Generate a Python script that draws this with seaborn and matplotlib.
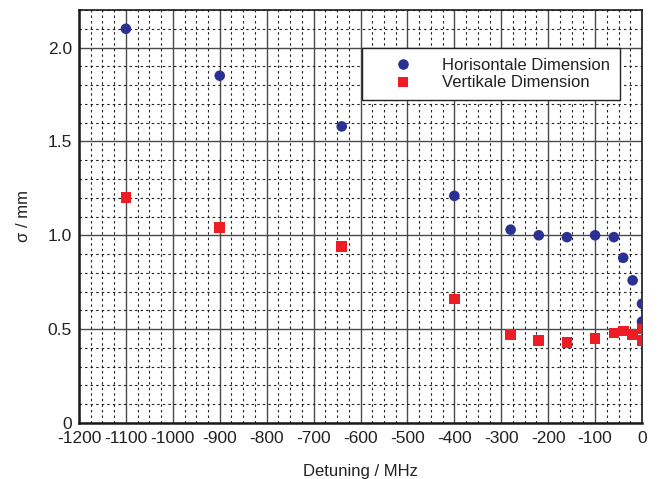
import matplotlib
matplotlib.use("Agg")
import matplotlib.pyplot as plt
from matplotlib.ticker import MultipleLocator
import numpy as np
import pandas as pd
import seaborn as sns

# Detuning values (MHz) and beam widths sigma (mm)
detuning_h = [-1100, -900, -640, -400, -280, -220, -160, -100, -60, -40, -20, 0, 0]
sigma_h = [2.10, 1.85, 1.58, 1.21, 1.03, 1.00, 0.99, 1.00, 0.99, 0.88, 0.76, 0.635, 0.54]

detuning_v = [-1100, -900, -640, -400, -280, -220, -160, -100, -60, -40, -20, 0, 0]
sigma_v = [1.20, 1.04, 0.94, 0.66, 0.47, 0.44, 0.43, 0.45, 0.48, 0.49, 0.47, 0.50, 0.44]

series_names = ["Horisontale Dimension", "Vertikale Dimension"]

df = pd.DataFrame({
    "Detuning": detuning_h + detuning_v,
    "sigma": sigma_h + sigma_v,
    "Serie": [series_names[0]] * len(detuning_h) + [series_names[1]] * len(detuning_v),
})

sns.set_theme(style="white")
plt.rcParams["font.family"] = ["Liberation Sans", "DejaVu Sans"]

fig = plt.figure(figsize=(6.58, 4.79), dpi=100)
ax = fig.add_axes([79 / 658, 1 - 423 / 479, 563 / 658, 413 / 479])

ax.set_xlim(-1200, 0)
ax.set_ylim(0, 2.2)
ax.xaxis.set_major_locator(MultipleLocator(100))
ax.xaxis.set_minor_locator(MultipleLocator(25))
ax.yaxis.set_major_locator(MultipleLocator(0.5))
ax.yaxis.set_minor_locator(MultipleLocator(0.1))

ax.grid(which="major", color="#4a4a4a", linewidth=1.0, linestyle="-")
ax.grid(which="minor", color="#222222", linewidth=0.8, linestyle=(0, (2.2, 2.8)))
ax.set_axisbelow(True)

sns.scatterplot(
    data=df, x="Detuning", y="sigma", hue="Serie", style="Serie",
    hue_order=series_names, style_order=series_names,
    palette={series_names[0]: "#2b3192", series_names[1]: "#ee1d25"},
    markers={series_names[0]: "o", series_names[1]: "s"},
    s=58, edgecolor="none", linewidth=0, ax=ax, zorder=3,
)

for side in ["left", "bottom", "right", "top"]:
    ax.spines[side].set_color("#1a1a1a")
ax.spines["left"].set_linewidth(1.8)
ax.spines["bottom"].set_linewidth(1.8)
ax.spines["right"].set_linewidth(1.2)
ax.spines["top"].set_linewidth(1.2)

def fmt_y(v):
    return "0" if abs(v) < 1e-9 else f"{v:.1f}"

yt = np.arange(0, 2.01, 0.5)
ax.set_yticks(yt)
ax.set_yticklabels([fmt_y(v) for v in yt], fontsize=12.5, color="#222222")
xt = np.arange(-1200, 1, 100)
ax.set_xticks(xt)
ax.set_xticklabels([str(int(v)) for v in xt], fontsize=12.5, color="#222222")
ax.tick_params(axis="x", which="both", length=0, pad=6)
ax.tick_params(axis="y", which="both", length=0, pad=5)

ax.set_xlabel("Detuning / MHz", fontsize=12, color="#222222", labelpad=13)
ax.set_ylabel("σ / mm", fontsize=12, color="#222222", labelpad=12)

leg = ax.legend(
    loc="upper left", bbox_to_anchor=(0.503, 0.908), fontsize=12,
    frameon=True, fancybox=False, shadow=False, borderpad=0.6,
    handlelength=3.7, handletextpad=0.5, borderaxespad=0,
    labelspacing=0.15, markerscale=1.0,
)
leg.get_frame().set_edgecolor("#222222")
leg.get_frame().set_linewidth(1.0)
leg.get_frame().set_facecolor("white")
leg.get_frame().set_alpha(1.0)
for t in leg.get_texts():
    t.set_color("#222222")

fig.savefig("out.png", dpi=100)
